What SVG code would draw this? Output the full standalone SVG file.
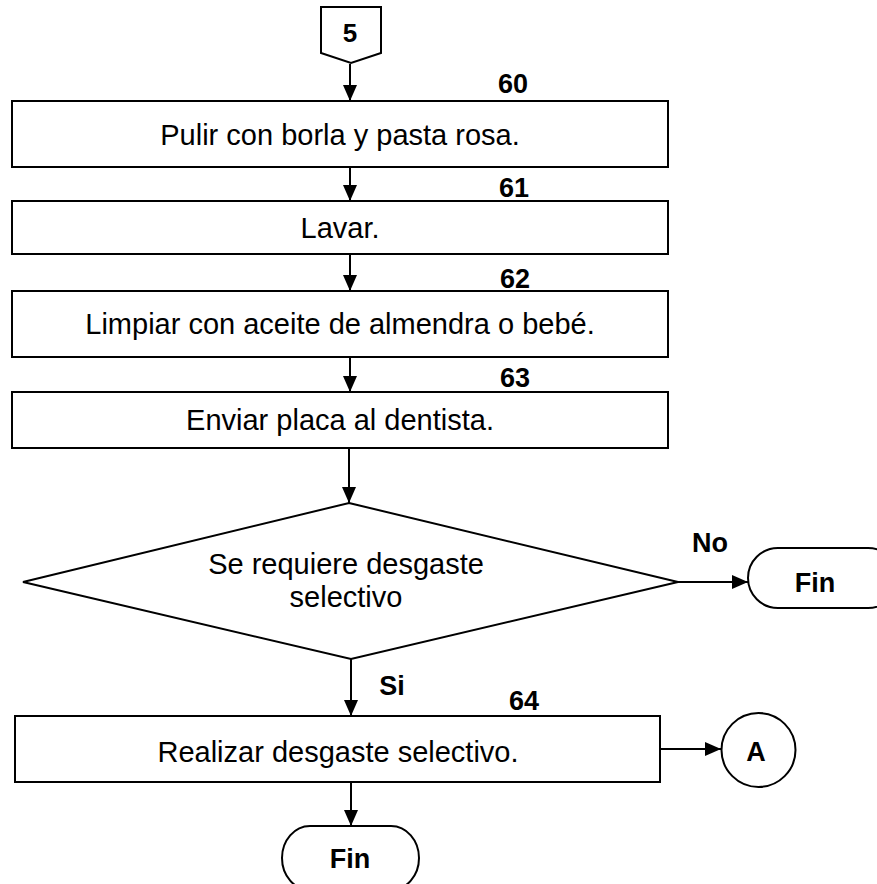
<svg xmlns="http://www.w3.org/2000/svg" width="877" height="884" viewBox="0 0 877 884">
<defs>
<style>
.s{fill:#fff;stroke:#000;stroke-width:2}
.t{font-family:"Liberation Sans",Arial,sans-serif;font-size:29px;fill:#000;text-anchor:middle}
.b{font-family:"Liberation Sans",Arial,sans-serif;font-size:27px;font-weight:bold;fill:#000;text-anchor:middle}
.c{stroke:#000;stroke-width:2;fill:none}
</style>
<marker id="ah" markerUnits="userSpaceOnUse" markerWidth="16" markerHeight="14" refX="16" refY="7" orient="auto">
<path d="M0,0 L16,7 L0,14 z" fill="#000"/>
</marker>
</defs>
<rect width="877" height="884" fill="#fff"/>
<g id="connectors">
<line class="c" x1="350" y1="64" x2="350" y2="101" marker-end="url(#ah)"/>
<line class="c" x1="350" y1="167" x2="350" y2="201" marker-end="url(#ah)"/>
<line class="c" x1="350" y1="254" x2="350" y2="291" marker-end="url(#ah)"/>
<line class="c" x1="350" y1="357" x2="350" y2="392" marker-end="url(#ah)"/>
<line class="c" x1="349" y1="448" x2="349" y2="503" marker-end="url(#ah)"/>
<line class="c" x1="678" y1="582" x2="748" y2="582" marker-end="url(#ah)"/>
<line class="c" x1="351" y1="659" x2="351" y2="716" marker-end="url(#ah)"/>
<line class="c" x1="660" y1="749" x2="721" y2="749" marker-end="url(#ah)"/>
<line class="c" x1="351" y1="782" x2="351" y2="826" marker-end="url(#ah)"/>
<text class="b" x="710" y="552">No</text>
<text class="b" x="392" y="695">Si</text>
</g>
<g id="n5">
<polygon class="s" points="321,7 381,7 381,53 351,63 321,53"/>
<text class="b" x="350" y="42" style="font-size:26px">5</text>
</g>
<g id="n60">
<text class="b" x="513" y="93">60</text>
<rect class="s" x="12" y="101" width="656" height="66"/>
<text class="t" x="340" y="145">Pulir con borla y pasta rosa.</text>
</g>
<g id="n61">
<text class="b" x="514" y="197">61</text>
<rect class="s" x="12" y="201" width="656" height="53"/>
<text class="t" x="340" y="238">Lavar.</text>
</g>
<g id="n62">
<text class="b" x="515" y="288">62</text>
<rect class="s" x="12" y="291" width="656" height="66"/>
<text class="t" x="340" y="334">Limpiar con aceite de almendra o bebé.</text>
</g>
<g id="n63">
<text class="b" x="515" y="387">63</text>
<rect class="s" x="12" y="392" width="656" height="56"/>
<text class="t" x="340" y="430">Enviar placa al dentista.</text>
</g>
<g id="decision">
<polygon class="s" points="349,503 678,582 351,659 23,582"/>
<text class="t" x="346" y="574">Se requiere desgaste</text>
<text class="t" x="346" y="607">selectivo</text>
</g>
<g id="fin1">
<rect class="s" x="748" y="548" width="150" height="60" rx="30" ry="30"/>
<text class="b" x="815" y="592">Fin</text>
</g>
<g id="n64">
<text class="b" x="524" y="710">64</text>
<rect class="s" x="15" y="716" width="645" height="66"/>
<text class="t" x="338" y="762">Realizar desgaste selectivo.</text>
</g>
<g id="conA">
<circle class="s" cx="758.5" cy="750" r="37"/>
<text class="b" x="756" y="761">A</text>
</g>
<g id="fin2">
<rect class="s" x="282" y="826" width="137" height="64" rx="28" ry="32"/>
<text class="b" x="350" y="868">Fin</text>
</g>
</svg>
